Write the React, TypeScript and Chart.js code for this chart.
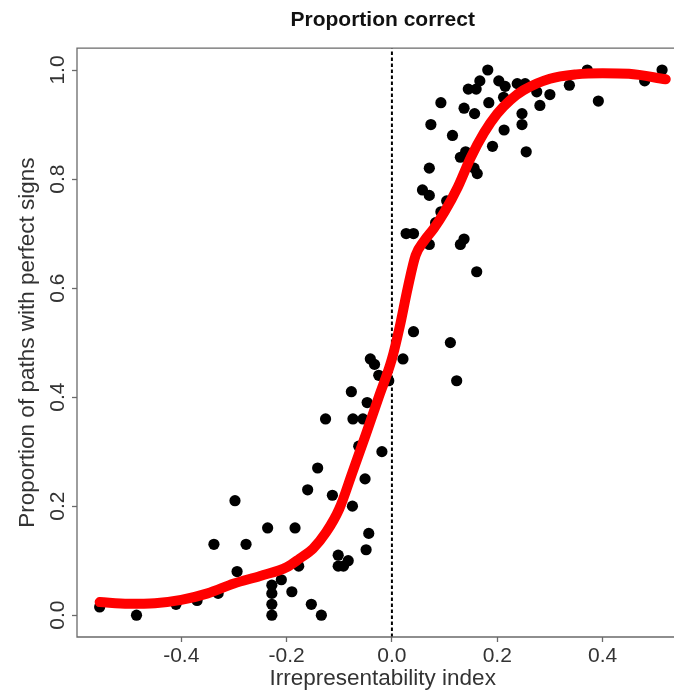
import React, { useEffect, useRef } from "react";
import { Chart, registerables } from "chart.js";

Chart.register(...registerables);

// Scatter points: irrepresentability index (x) and proportion correct (y)
const pointX = [
  -0.555, -0.485, -0.41, -0.37, -0.33, -0.338, -0.298, -0.277, -0.294, -0.236,
  -0.184, -0.228, -0.228, -0.228, -0.228, -0.21, -0.19, -0.153, -0.134, -0.177,
  -0.16, -0.141, -0.126, -0.113, -0.102, -0.102, -0.092, -0.083, -0.077, -0.075,
  -0.074, -0.063, -0.055, -0.051, -0.049, -0.047, -0.044, -0.041, -0.033, -0.025,
  -0.006, -0.019, 0.021,
  0.027, 0.041, 0.041, 0.058, 0.071, 0.071, 0.071, 0.074, 0.083, 0.093,
  0.093, 0.104, 0.111, 0.115, 0.123, 0.13, 0.13, 0.137, 0.137, 0.14,
  0.145, 0.156, 0.157, 0.16, 0.161, 0.162, 0.167, 0.182, 0.184, 0.191,
  0.203, 0.212, 0.213, 0.215, 0.238, 0.247, 0.247, 0.253, 0.255, 0.275,
  0.281, 0.3, 0.337, 0.371, 0.392, 0.48, 0.513,
];
const pointY = [
  0.015, 0.0, 0.02, 0.027, 0.04, 0.13, 0.21, 0.13, 0.08, 0.16,
  0.16, 0.055, 0.04, 0.02, 0.0, 0.065, 0.043, 0.02, 0.0, 0.09,
  0.23, 0.27, 0.36, 0.22, 0.11, 0.09, 0.09, 0.1, 0.41, 0.2,
  0.36, 0.31, 0.36, 0.25, 0.12, 0.39, 0.15, 0.47, 0.46, 0.44,
  0.43, 0.3, 0.47,
  0.7, 0.7, 0.52, 0.78, 0.77, 0.82, 0.68, 0.9, 0.72, 0.74,
  0.94, 0.76, 0.5, 0.88, 0.43, 0.68, 0.84, 0.69, 0.93, 0.85,
  0.965, 0.82, 0.92, 0.965, 0.63, 0.81, 0.98, 1.0, 0.94, 0.86,
  0.98, 0.95, 0.89, 0.97, 0.975, 0.92, 0.9, 0.975, 0.85, 0.96,
  0.935, 0.955, 0.972, 1.0, 0.943, 0.98, 1.0,
];

// Smooth (loess-like) fit curve
const curveX = [
  -0.555, -0.5, -0.45, -0.4, -0.35, -0.3, -0.25, -0.2, -0.175, -0.15, -0.125,
  -0.1, -0.075, -0.05, -0.025, 0, 0.015, 0.03, 0.045, 0.06, 0.08, 0.1, 0.125,
  0.15, 0.175, 0.2, 0.225, 0.25, 0.3, 0.35, 0.4, 0.45, 0.52,
];
const curveY = [
  0.024, 0.021, 0.022, 0.028, 0.04, 0.058, 0.072, 0.088, 0.104, 0.122, 0.152,
  0.195, 0.262, 0.33, 0.4, 0.47, 0.53, 0.6, 0.66, 0.685, 0.71, 0.74, 0.785,
  0.84, 0.885, 0.92, 0.945, 0.963, 0.984, 0.992, 0.994, 0.993, 0.983,
];

// Reference vertical line at x = 0
const refLineX = [0, 0];
const refLineY = [-0.04, 1.04];

const xTicks = [-0.4, -0.2, 0.0, 0.2, 0.4];
const yTicks = [0.0, 0.2, 0.4, 0.6, 0.8, 1.0];
const xRange = [-0.598, 0.563];
const yRange = [-0.04, 1.04];

const AXIS_GRAY = "#6a6a6a";
const TEXT = "#333333";
const FONT = "'Liberation Sans', Arial, sans-serif";

// Plot frame (top, left, bottom; the right side lies outside the visible page)
const boxPlugin = {
  id: "plotBox",
  afterDraw(chart: any) {
    const { ctx, chartArea } = chart;
    const { left, top, right, bottom } = chartArea;
    ctx.save();
    ctx.strokeStyle = AXIS_GRAY;
    ctx.lineWidth = 1.3;
    ctx.beginPath();
    ctx.moveTo(right, top);
    ctx.lineTo(left, top);
    ctx.lineTo(left, bottom);
    ctx.lineTo(right, bottom);
    ctx.stroke();
    ctx.restore();
  },
};

const fmt = (v: number) => (Math.abs(v) < 1e-9 ? "0.0" : Number(v).toFixed(1));

export default function App() {
  const ref = useRef<HTMLCanvasElement | null>(null);

  useEffect(() => {
    if (!ref.current) return;
    const chart = new Chart(ref.current, {
      type: "scatter",
      data: {
        datasets: [
          {
            type: "line",
            data: curveX.map((x, i) => ({ x, y: curveY[i] })),
            borderColor: "#ff0000",
            borderWidth: 10,
            borderCapStyle: "round",
            borderJoinStyle: "round",
            pointRadius: 0,
            cubicInterpolationMode: "monotone",
            fill: false,
            order: 0,
          } as any,
          {
            type: "line",
            data: refLineX.map((x, i) => ({ x, y: refLineY[i] })),
            borderColor: "#000000",
            borderWidth: 2,
            borderDash: [3.5, 2.5],
            pointRadius: 0,
            fill: false,
            order: 1,
          } as any,
          {
            data: pointX.map((x, i) => ({ x, y: pointY[i] })),
            backgroundColor: "#000000",
            borderWidth: 0,
            pointRadius: 5.6,
            order: 2,
          },
        ],
      },
      options: {
        responsive: false,
        animation: false,
        devicePixelRatio: 1,
        layout: { padding: { left: 0, right: 2, top: 0, bottom: 0 } },
        plugins: {
          legend: { display: false },
          tooltip: { enabled: false },
          title: {
            display: true,
            fullSize: false,
            text: "Proportion correct",
            color: "#111111",
            font: { family: FONT, size: 21, weight: "bold", lineHeight: 1.2 },
            padding: { top: 8, bottom: 15 },
          },
        },
        scales: {
          x: {
            type: "linear",
            min: xRange[0],
            max: xRange[1],
            afterBuildTicks: (s: any) => {
              s.ticks = xTicks.map((v) => ({ value: v }));
            },
            afterFit: (s: any) => {
              s.height = 56;
            },
            border: { display: false },
            grid: { drawOnChartArea: false, drawTicks: true, tickLength: 5, tickColor: AXIS_GRAY, tickWidth: 1.3 },
            ticks: {
              color: TEXT,
              padding: 2,
              maxRotation: 0,
              font: { family: FONT, size: 21 },
              callback: (v: any) => fmt(Number(v)),
            },
            title: {
              display: true,
              text: "Irrepresentability index",
              color: TEXT,
              font: { family: FONT, size: 22.5, lineHeight: 1.2 },
              padding: { top: 0, bottom: 0.5 },
            },
          },
          y: {
            type: "linear",
            min: yRange[0],
            max: yRange[1],
            afterBuildTicks: (s: any) => {
              s.ticks = yTicks.map((v) => ({ value: v }));
            },
            afterFit: (s: any) => {
              s.width = 77;
            },
            border: { display: false },
            grid: { drawOnChartArea: false, drawTicks: true, tickLength: 5, tickColor: AXIS_GRAY, tickWidth: 1.3 },
            ticks: {
              color: TEXT,
              padding: -1,
              minRotation: 90,
              maxRotation: 90,
              crossAlign: "center",
              font: { family: FONT, size: 21 },
              callback: (v: any) => fmt(Number(v)),
            },
            title: {
              display: true,
              text: "Proportion of paths with perfect signs",
              color: TEXT,
              font: { family: FONT, size: 22.5, lineHeight: 1.2 },
              padding: { top: 14.5, bottom: 0 },
            },
          },
        },
      } as any,
      plugins: [boxPlugin],
    });
    return () => chart.destroy();
  }, []);

  return (
    <div
      style={{
        position: "absolute",
        left: 0,
        top: 0,
        width: 674,
        height: 693,
        overflow: "hidden",
        background: "#ffffff",
      }}
    >
      <canvas ref={ref} width={694} height={693} style={{ display: "block", width: 694, height: 693 }} />
    </div>
  );
}
